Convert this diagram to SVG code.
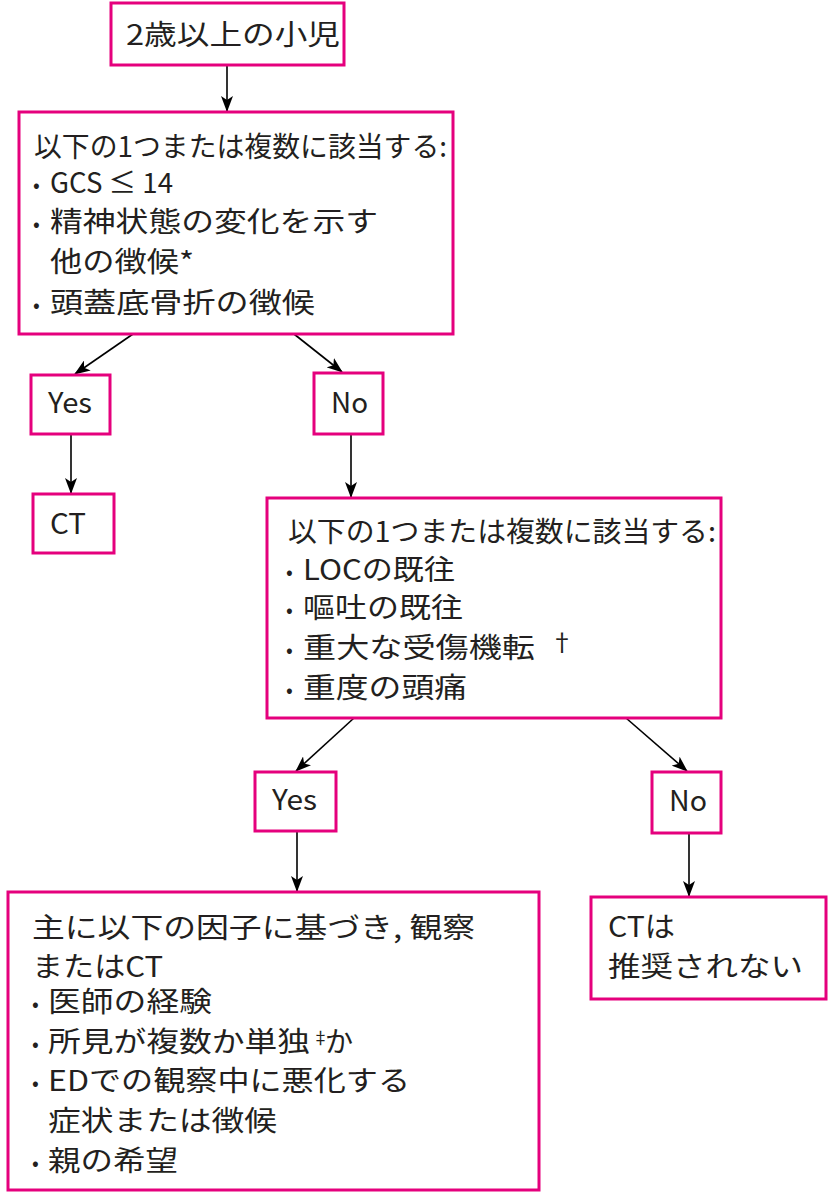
<svg xmlns="http://www.w3.org/2000/svg" width="828" height="1194" viewBox="0 0 828 1194">
<style>
.box{fill:#fff;stroke:#e5007d;stroke-width:3}
.t{font-family:"Noto Sans CJK JP","Noto Sans",sans-serif;font-size:28px;fill:#231f20}
.b{font-family:"Noto Sans CJK JP","Noto Sans",sans-serif;font-size:20px;fill:#231f20}
.c{stroke:#000;stroke-width:1.6;fill:none;marker-end:url(#ah)}
</style>
<defs>
<marker id="ah" markerWidth="16" markerHeight="12" refX="15" refY="6" orient="auto" markerUnits="userSpaceOnUse">
<path d="M0,0 L16,6 L0,12 L4,6 z" fill="#000"/>
</marker>
</defs>
<rect width="828" height="1194" fill="#fff"/>
<g id="connectors">
<line class="c" x1="227" y1="65" x2="227" y2="111"/>
<line class="c" x1="133" y1="334" x2="75" y2="374"/>
<line class="c" x1="294" y1="334" x2="342" y2="372"/>
<line class="c" x1="71" y1="434" x2="71" y2="493"/>
<line class="c" x1="351" y1="434" x2="351" y2="497"/>
<line class="c" x1="354" y1="718" x2="296" y2="771"/>
<line class="c" x1="626" y1="718" x2="687" y2="771"/>
<line class="c" x1="297" y1="831" x2="297" y2="891"/>
<line class="c" x1="689" y1="833" x2="689" y2="896"/>
</g>
<g id="n1">
<rect class="box" x="111" y="3" width="233" height="62"/>
<text class="t" x="126" y="45" textLength="214" lengthAdjust="spacingAndGlyphs">2歳以上の小児</text>
</g>
<g id="n2">
<rect class="box" x="19" y="112" width="434" height="222"/>
<text class="t" x="34" y="157" textLength="413" lengthAdjust="spacingAndGlyphs">以下の1つまたは複数に該当する:</text>
<text class="b" x="33" y="192">•</text><text class="t" x="50" y="193" textLength="123" lengthAdjust="spacingAndGlyphs">GCS ≤ 14</text>
<text class="b" x="33" y="231">•</text><text class="t" x="50" y="232" textLength="328" lengthAdjust="spacingAndGlyphs">精神状態の変化を示す</text>
<text class="t" x="50" y="272" textLength="144" lengthAdjust="spacingAndGlyphs">他の徴候*</text>
<text class="b" x="33" y="312">•</text><text class="t" x="50" y="313" textLength="265" lengthAdjust="spacingAndGlyphs">頭蓋底骨折の徴候</text>
</g>
<g id="n3">
<rect class="box" x="31" y="375" width="79" height="59"/>
<text class="t" x="48" y="413" textLength="44" lengthAdjust="spacingAndGlyphs">Yes</text>
</g>
<g id="n4">
<rect class="box" x="314" y="373" width="69" height="61"/>
<text class="t" x="331" y="413" textLength="37" lengthAdjust="spacingAndGlyphs">No</text>
</g>
<g id="n5">
<rect class="box" x="33" y="494" width="81" height="59"/>
<text class="t" x="50" y="534" textLength="36" lengthAdjust="spacingAndGlyphs">CT</text>
</g>
<g id="n6">
<rect class="box" x="267" y="498" width="454" height="220"/>
<text class="t" x="288" y="542" textLength="428" lengthAdjust="spacingAndGlyphs">以下の1つまたは複数に該当する:</text>
<text class="b" x="286" y="579">•</text><text class="t" x="303" y="580" textLength="152" lengthAdjust="spacingAndGlyphs">LOCの既往</text>
<text class="b" x="286" y="617">•</text><text class="t" x="303" y="618" textLength="160" lengthAdjust="spacingAndGlyphs">嘔吐の既往</text>
<text class="b" x="286" y="657">•</text><text class="t" x="303" y="658" textLength="232" lengthAdjust="spacingAndGlyphs">重大な受傷機転</text>
<text class="t" x="550" y="651" style="font-size:24px">†</text>
<text class="b" x="286" y="697">•</text><text class="t" x="303" y="698" textLength="164" lengthAdjust="spacingAndGlyphs">重度の頭痛</text>
</g>
<g id="n7">
<rect class="box" x="255" y="772" width="81" height="59"/>
<text class="t" x="272" y="810" textLength="45" lengthAdjust="spacingAndGlyphs">Yes</text>
</g>
<g id="n8">
<rect class="box" x="652" y="772" width="69" height="61"/>
<text class="t" x="669" y="811" textLength="38" lengthAdjust="spacingAndGlyphs">No</text>
</g>
<g id="n9">
<rect class="box" x="8" y="892" width="531" height="298"/>
<text class="t" x="32" y="938" textLength="443" lengthAdjust="spacingAndGlyphs">主に以下の因子に基づき, 観察</text>
<text class="t" x="32" y="977" textLength="131" lengthAdjust="spacingAndGlyphs">またはCT</text>
<text class="b" x="32" y="1011">•</text><text class="t" x="48" y="1012" textLength="164" lengthAdjust="spacingAndGlyphs">医師の経験</text>
<text class="b" x="32" y="1051">•</text><text class="t" y="1052"><tspan x="48" textLength="262" lengthAdjust="spacingAndGlyphs">所見が複数か単独</tspan><tspan x="312" y="1044" style="font-size:17px">‡</tspan><tspan x="325" y="1052">か</tspan></text>
<text class="b" x="32" y="1090">•</text><text class="t" x="48" y="1091" textLength="362" lengthAdjust="spacingAndGlyphs">EDでの観察中に悪化する</text>
<text class="t" x="48" y="1131" textLength="229" lengthAdjust="spacingAndGlyphs">症状または徴候</text>
<text class="b" x="32" y="1170">•</text><text class="t" x="48" y="1171" textLength="130" lengthAdjust="spacingAndGlyphs">親の希望</text>
</g>
<g id="n10">
<rect class="box" x="591" y="897" width="235" height="102"/>
<text class="t" x="608" y="937" textLength="67" lengthAdjust="spacingAndGlyphs">CTは</text>
<text class="t" x="608" y="977" textLength="195" lengthAdjust="spacingAndGlyphs">推奨されない</text>
</g>
</svg>
